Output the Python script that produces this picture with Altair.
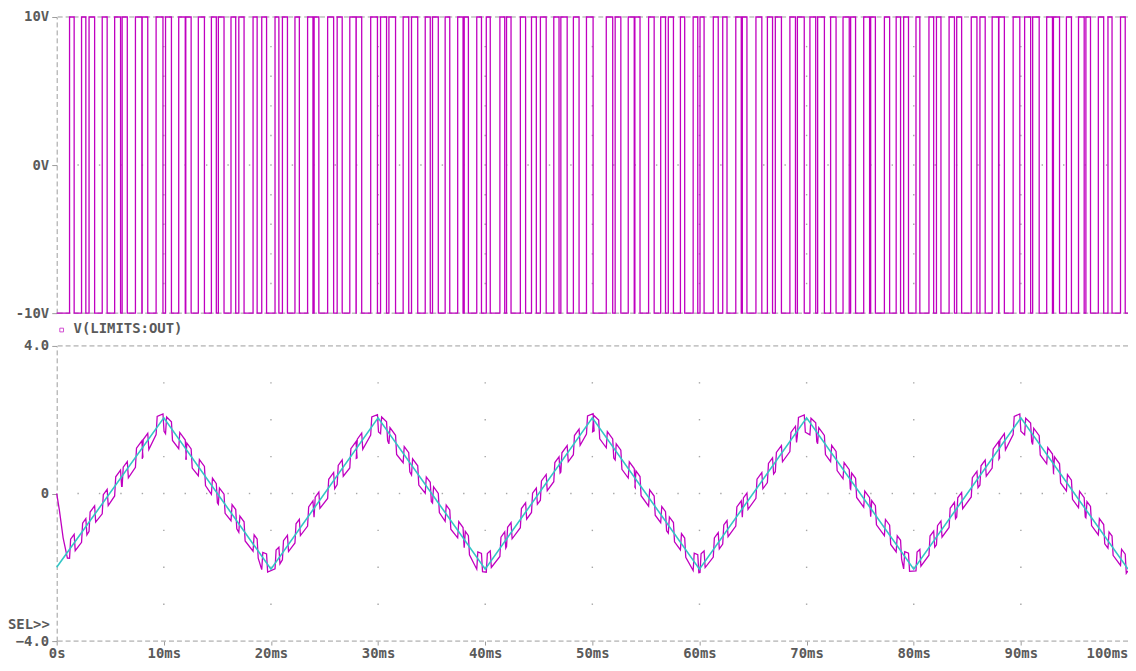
import altair as alt
import pandas as pd

# ---------------- data ----------------
# reference triangle (cyan), ms / V
tri_ms = [0, 10, 20, 30, 40, 50, 60, 70, 80, 90, 100]
tri_v = [-2.0, 2.05, -2.05, 2.05, -2.05, 2.05, -2.05, 2.05, -2.05, 2.05, -2.05]

# PWM output V(LIMITS:OUT): starts low, first rising edge, ~1 ms cycles
pwm_low_v = -10
pwm_high_v = 10
first_rise_ms = 1.2
pwm_period_ms = 1.0
rise_shift_ms = [
    0.00, 0.12, -0.18, 0.05, 0.21, -0.09, 0.15, -0.22, 0.08, -0.04, 0.19, -0.15, 0.02, 0.24, -0.11, 0.07, -0.20, 0.13, -0.06, 0.18,
    -0.13, 0.04, 0.22, -0.17, 0.09, -0.02, 0.16, -0.24, 0.11, 0.03, -0.19, 0.14, -0.08, 0.20, -0.12, 0.06, 0.23, -0.16, 0.01, -0.10,
    0.17, -0.21, 0.08, 0.12, -0.05, 0.20, -0.14, 0.03, 0.25, -0.18, 0.10, -0.07, 0.15, -0.23, 0.05, 0.18, -0.11, 0.02, 0.21, -0.15,
    0.09, -0.03, 0.19, -0.20, 0.07, 0.14, -0.12, 0.24, -0.06, 0.11, -0.17, 0.04, 0.20, -0.09, 0.13, -0.22, 0.06, 0.16, -0.14, 0.01,
    0.22, -0.08, 0.10, -0.19, 0.17, -0.02, 0.12, -0.25, 0.08, 0.15, -0.10, 0.21, -0.16, 0.05, 0.18, -0.13, 0.03, -0.07, 0.10,
]
pwm_high_ms = [
    0.43, 0.40, 0.52, 0.46, 0.55, 0.48, 0.60, 0.52, 0.64, 0.55, 0.61, 0.50, 0.57, 0.46, 0.53, 0.44, 0.49, 0.38, 0.45, 0.36,
    0.47, 0.41, 0.50, 0.44, 0.56, 0.47, 0.58, 0.51, 0.63, 0.56, 0.62, 0.52, 0.58, 0.47, 0.54, 0.43, 0.50, 0.39, 0.44, 0.37,
    0.45, 0.42, 0.49, 0.45, 0.54, 0.49, 0.59, 0.53, 0.62, 0.57, 0.60, 0.53, 0.56, 0.48, 0.52, 0.45, 0.48, 0.40, 0.43, 0.38,
    0.46, 0.40, 0.51, 0.43, 0.55, 0.48, 0.57, 0.52, 0.64, 0.54, 0.63, 0.51, 0.58, 0.46, 0.55, 0.44, 0.49, 0.41, 0.45, 0.36,
    0.44, 0.42, 0.50, 0.46, 0.53, 0.49, 0.60, 0.51, 0.62, 0.56, 0.61, 0.54, 0.57, 0.47, 0.53, 0.43, 0.50, 0.38, 0.44,
]

# filtered output (purple, lower plot): level of each PWM cycle and ripple size
ripple_mid_v = [
    -1.32, -0.93, -0.51, -0.13, 0.29, 0.67, 1.09, 1.47, 1.89, 1.71, 1.33, 0.91, 0.53, 0.11, -0.29, -0.67, -1.09, -1.47, -1.89, -1.71,
    -1.31, -0.92, -0.53, -0.11, 0.27, 0.69, 1.07, 1.49, 1.87, 1.73, 1.31, 0.93, 0.51, 0.13, -0.27, -0.69, -1.07, -1.49, -1.87, -1.73,
    -1.33, -0.91, -0.52, -0.12, 0.28, 0.68, 1.08, 1.48, 1.88, 1.72, 1.32, 0.92, 0.52, 0.12, -0.28, -0.68, -1.08, -1.48, -1.88, -1.72,
    -1.32, -0.92, -0.52, -0.12, 0.28, 0.68, 1.08, 1.48, 1.88, 1.72, 1.32, 0.92, 0.52, 0.12, -0.28, -0.68, -1.08, -1.48, -1.88, -1.72,
    -1.32, -0.92, -0.52, -0.12, 0.28, 0.68, 1.08, 1.48, 1.89, 1.73, 1.33, 0.93, 0.53, 0.13, -0.27, -0.67, -1.07, -1.47, -1.87,
]
ripple_amp_v = 0.24
start_ms = [0.0, 0.25, 0.6, 1.0]
start_v = [0.0, -0.45, -1.2, -1.75]
end_ms = [100.0]
end_v = [-2.1]

x_ticks_ms = [0, 10, 20, 30, 40, 50, 60, 70, 80, 90, 100]
top_ticks_v = [-10, 0, 10]
bot_ticks_v = [-4, 0, 4]
top_dot_rows_v = [-8, -6, -4, -2, 2, 4, 6, 8]
bot_dot_rows_v = [-3, -2, -1, 1, 2, 3]
dot_cols_ms = [10, 20, 30, 40, 50, 60, 70, 80, 90]
zero_row_ms = [2, 4, 6, 8, 10, 12, 14, 16, 18, 20, 22, 24, 26, 28, 30, 32, 34, 36, 38, 40, 42, 44, 46, 48,
               50, 52, 54, 56, 58, 60, 62, 64, 66, 68, 70, 72, 74, 76, 78, 80, 82, 84, 86, 88, 90, 92, 94, 96, 98]
legend_label = "V(LIMITS:OUT)"
sel_label = "SEL>>"

# ---------------- tables ----------------
n = len(pwm_high_ms)
rises = [first_rise_ms + k * pwm_period_ms + rise_shift_ms[k] for k in range(n)]

pwm_rows = [{"t": 0.0, "v": pwm_low_v}]
for k, h in enumerate(pwm_high_ms):
    r = rises[k]
    pwm_rows.append({"t": r, "v": pwm_high_v})
    pwm_rows.append({"t": r + h, "v": pwm_low_v})
pwm_rows.append({"t": 100.0, "v": pwm_low_v})
pwm_df = pd.DataFrame(pwm_rows)

filt_rows = [{"t": t, "v": v} for t, v in zip(start_ms, start_v)]
for k in range(n):
    r = rises[k]
    f = r + pwm_high_ms[k]
    c = first_rise_ms + k * pwm_period_ms + 0.5
    m = ripple_mid_v[k]
    lo, hi = max(k - 1, 0), min(k + 1, n - 1)
    s = (ripple_mid_v[hi] - ripple_mid_v[lo]) / ((hi - lo) * pwm_period_ms)
    a = ripple_amp_v
    filt_rows += [
        {"t": r, "v": m + s * (r - c) - a},
        {"t": r + 0.1, "v": m + s * (r + 0.1 - c) + a},
        {"t": f, "v": m + s * (f - c) + a},
        {"t": f + 0.1, "v": m + s * (f + 0.1 - c) - a},
    ]
filt_rows += [{"t": t, "v": v} for t, v in zip(end_ms, end_v)]
filt_df = pd.DataFrame(filt_rows)
filt_df["o"] = range(len(filt_df))

tri_df = pd.DataFrame({"t": tri_ms, "v": tri_v})

top_dots = pd.DataFrame(
    [{"t": x, "v": y} for x in dot_cols_ms for y in top_dot_rows_v] + [{"t": x, "v": 0} for x in zero_row_ms]
)
bot_dots = pd.DataFrame(
    [{"t": x, "v": y} for x in dot_cols_ms for y in bot_dot_rows_v] + [{"t": x, "v": 0} for x in zero_row_ms]
)
top_border = pd.DataFrame({"v": [top_ticks_v[0], top_ticks_v[-1]]})
bot_border = pd.DataFrame({"v": [bot_ticks_v[0], bot_ticks_v[-1]]})

# ---------------- styling ----------------
W, H = 1078, 628
TOP_H = 298
GAP = 33
PURPLE = "#c000c0"
CYAN = "#33c6c6"
GRID = "#9c9c9c"
TXT = "#5a5a5a"
FONT = "DejaVu Sans Mono"

x_enc = alt.X(
    "t:Q",
    scale=alt.Scale(domain=[0, 100], nice=False, zero=False),
    axis=alt.Axis(
        values=x_ticks_ms, orient="bottom", title=None, grid=False, domain=False,
        tickSize=4, tickColor=GRID, labelPadding=2, labelFlush=False, labelOverlap=False,
        labelAlign={"condition": {"test": "datum.value >= 100", "value": "right"}, "value": "center"},
        labelExpr="datum.value == 0 ? '0s' : datum.value + 'ms'",
        labelFont=FONT, labelFontSize=14, labelFontWeight="bold", labelColor=TXT,
    ),
)

axis_common = dict(
    title=None, grid=False, orient="left", domainDash=[5, 3], domainColor=GRID,
    tickSize=5, tickColor=GRID, labelPadding=3, labelFlush=False,
    labelFont=FONT, labelFontSize=14, labelFontWeight="bold", labelColor=TXT,
)

y_top = alt.Y(
    "v:Q",
    scale=alt.Scale(domain=[-10, 10], range=[TOP_H, 0], nice=False, zero=False),
    axis=alt.Axis(values=top_ticks_v, labelExpr="datum.value + 'V'", **axis_common),
)
y_bot = alt.Y(
    "v:Q",
    scale=alt.Scale(domain=[-4, 4], range=[H, TOP_H + GAP], nice=False, zero=False),
    axis=alt.Axis(
        values=bot_ticks_v,
        labelExpr="datum.value == 0 ? '0' : format(datum.value, '.1f')",
        **axis_common,
    ),
)

top_panel = alt.layer(
    alt.Chart(top_dots).mark_square(size=2, color=GRID, opacity=0.9).encode(x=x_enc, y=y_top),
    alt.Chart(top_border).mark_rule(color=GRID, strokeDash=[5, 3], strokeWidth=1).encode(y=y_top),
    alt.Chart(pwm_df).mark_line(interpolate="step-after", color=PURPLE, strokeWidth=1.3).encode(
        x=x_enc, y=y_top, order="t:Q"
    ),
)

bot_panel = alt.layer(
    alt.Chart(bot_dots).mark_square(size=2, color=GRID, opacity=0.9).encode(x=x_enc, y=y_bot),
    alt.Chart(bot_border).mark_rule(color=GRID, strokeDash=[5, 3], strokeWidth=1).encode(y=y_bot),
    alt.Chart(filt_df).mark_line(color=PURPLE, strokeWidth=1.3).encode(x=x_enc, y=y_bot, order="o:Q"),
    alt.Chart(tri_df).mark_line(color=CYAN, strokeWidth=1.6).encode(x=x_enc, y=y_bot),
)

legend_marker = alt.Chart(pd.DataFrame({"k": [legend_label]})).mark_point(
    shape="square", filled=False, size=14, color=PURPLE, strokeWidth=1
).encode(x=alt.value(5), y=alt.value(TOP_H + 17))

legend_text = alt.Chart(pd.DataFrame({"k": [legend_label]})).mark_text(
    align="left", baseline="middle", font=FONT, fontSize=14, fontWeight="bold", color=TXT
).encode(x=alt.value(17), y=alt.value(TOP_H + 16), text="k:N")

sel_text = alt.Chart(pd.DataFrame({"k": [sel_label]})).mark_text(
    align="left", baseline="middle", font=FONT, fontSize=14, fontWeight="bold", color=TXT
).encode(x=alt.value(-49), y=alt.value(H - 16), text="k:N")

chart = (
    alt.layer(top_panel, bot_panel, legend_marker, legend_text, sel_text)
    .resolve_scale(y="independent")
    .properties(
        width=W,
        height=H,
        autosize=alt.AutoSizeParams(type="none"),
        padding={"left": 49, "top": 7, "right": 0, "bottom": 20},
        background="white",
    )
    .configure_view(stroke=None)
)

chart.save("out.html", embed_options={"renderer": "svg", "actions": False})
